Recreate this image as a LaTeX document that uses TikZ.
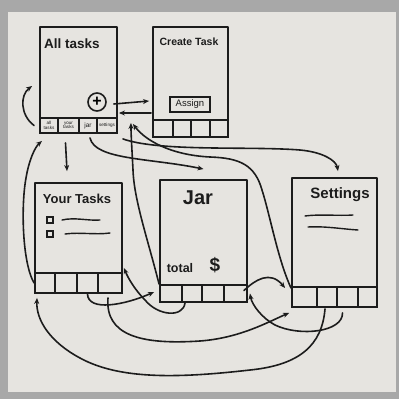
\documentclass[tikz,border=0pt]{standalone}
\usepackage{fontspec}
\setmainfont{Liberation Sans}
\usetikzlibrary{arrows.meta}
\definecolor{paper}{RGB}{230,228,224}
\definecolor{frame}{RGB}{168,168,168}
\definecolor{ink}{RGB}{28,28,28}
\tikzset{
  screen/.style={draw=ink, line width=1.9pt, inner sep=0pt, line join=round},
  tabbox/.style={draw=ink, line width=1.9pt, inner sep=0pt},
  arr/.style={draw=ink, line width=1.6pt, line cap=round, -{Stealth[length=6pt,width=5pt]}},
  plainline/.style={draw=ink, line width=1.4pt, line cap=round},
  title/.style={text=ink, inner sep=0pt},
  tablbl/.style={text=ink, inner sep=0pt, align=center, font=\fontsize{4.6}{4.4}\selectfont}
}
\newcommand\tabrow[8]{%
  \node[tabbox, minimum width={#3-#2}, minimum height={#8-#7}] (#11) at ({(#2+#3)/2},{(#7+#8)/2}) {};
  \node[tabbox, minimum width={#4-#3}, minimum height={#8-#7}] (#12) at ({(#3+#4)/2},{(#7+#8)/2}) {};
  \node[tabbox, minimum width={#5-#4}, minimum height={#8-#7}] (#13) at ({(#4+#5)/2},{(#7+#8)/2}) {};
  \node[tabbox, minimum width={#6-#5}, minimum height={#8-#7}] (#14) at ({(#5+#6)/2},{(#7+#8)/2}) {};
}
\begin{document}
\begin{tikzpicture}[x=1pt,y=-1pt]
\useasboundingbox (0,0) rectangle (399,399);
\fill[frame] (0,0) rectangle (399,399);
\fill[paper] (8,12) rectangle (396,392);

% All tasks
\node[screen, minimum width=77, minimum height=91] (AT) at (78.5,72.5) {};
\tabrow{AT}{40}{58}{79}{97}{117}{118}{133}
\node[title, font=\fontsize{13.5}{13.5}\selectfont\bfseries] (ATt) at (72,44) {All tasks};
\node[draw=ink, line width=1.6pt, circle, minimum size=18pt, inner sep=0pt,
      font=\fontsize{16}{16}\selectfont\bfseries] (plus) at (97,102) {+};
\node[tablbl] (ATl1) at (AT1) {all\\tasks};
\node[tablbl] (ATl2) at (AT2) {your\\tasks};
\node[tablbl, font=\fontsize{6.5}{6.5}\selectfont] (ATl3) at (AT3) {jar};
\node[tablbl, font=\fontsize{4.6}{4.6}\selectfont] (ATl4) at (AT4) {settings};

% Create task
\node[screen, minimum width=75, minimum height=93] (CT) at (190.5,73.5) {};
\tabrow{CT}{153}{173}{191}{210}{228}{120}{137}
\node[title, font=\fontsize{10.5}{10.5}\selectfont\bfseries] (CTt) at (189,42) {Create Task};
\node[draw=ink, line width=1.4pt, minimum width=40, minimum height=15, inner sep=0pt,
      font=\fontsize{9.5}{9.5}\selectfont, text=ink] (assign) at (190,104.5) {Assign};

% Your tasks
\node[screen, minimum width=87, minimum height=90] (YT) at (78.5,228) {};
\tabrow{YT}{35}{55}{77}{98}{122}{273}{293}
\node[title, font=\fontsize{13}{13}\selectfont\bfseries] (YTt) at (77,199) {Your Tasks};
\node[draw=ink, line width=1.3pt, minimum size=6pt, inner sep=0pt] (cb1) at (50,220) {};
\node[draw=ink, line width=1.3pt, minimum size=6pt, inner sep=0pt] (cb2) at (50,234) {};
\draw[plainline] (62,220) .. controls (75,217) and (88,221) .. (100,220);
\draw[plainline] (65,234) .. controls (80,232) and (95,235) .. (110,233);

% Jar
\node[screen, minimum width=87, minimum height=105] (JR) at (203.5,232.5) {};
\tabrow{JR}{160}{182}{202}{224}{247}{285}{302}
\node[title, font=\fontsize{20}{20}\selectfont\bfseries] (JRt) at (198,198) {Jar};
\node[title, font=\fontsize{12.5}{12.5}\selectfont\bfseries] (total) at (180,268) {total};
\node[title, font=\fontsize{19}{19}\selectfont\bfseries] (dollar) at (215,265) {\$};

% Settings
\node[screen, minimum width=85, minimum height=109] (ST) at (334.5,232.5) {};
\tabrow{ST}{292}{317}{337}{358}{377}{287}{307}
\node[title, font=\fontsize{15}{15}\selectfont\bfseries] (STt) at (340,195) {Settings};
\draw[plainline] (305,216) .. controls (320,214) and (338,216) .. (353,215);
\draw[plainline] (308,227) .. controls (325,226) and (342,229) .. (358,230);

% connectors
\draw[arr] ([shift={(-5,0)}]AT1.west) .. controls (20,115) and (20,95) .. ([shift={(-7,13.5)}]AT.west);
\draw[arr] ([shift={(-3,9)}]AT2.south) -- ([shift={(-11.5,-11)}]YT.north);
\draw[arr] (YT1.west) .. controls (22,262) and (21,205) .. (26,178)
  .. controls (29,160) and (35,147) .. ([shift={(-7,7)}]AT1.south);
\draw[arr] ([shift={(2,4)}]AT3.south) .. controls (95,160) and (150,158) .. ([shift={(0,-10)}]JR.north);
\draw[arr] ([shift={(5,5)}]AT4.south east) .. controls (160,152) and (250,146) .. (300,150)
  .. controls (322,152) and (336,160) .. ([shift={(3.5,-6)}]ST.north);
\draw[arr] (JR1.north west) .. controls (148,240) and (134,200) .. (133,170)
  .. controls (132,150) and (131,135) .. ([shift={(13,4)}]AT.south east);
\draw[arr] ([shift={(0,2)}]ST1.north west) .. controls (278,260) and (270,215) .. (262,190)
  .. controls (255,165) and (240,158) .. (210,157)
  .. controls (170,155) and (145,140) .. ([shift={(15,5)}]AT.south east);
\draw[arr] (YT3.south) .. controls (88,312) and (125,305) .. ([shift={(-5,-1.5)}]JR1.west);
\draw[arr] ([shift={(-2,4)}]YT4.south) .. controls (105,335) and (140,345) .. (200,341)
  .. controls (240,338) and (268,322) .. ([shift={(-2,5)}]ST1.south west);
\draw[arr] ([shift={(-7,0)}]JR2.south) .. controls (183,318) and (158,316) .. (145,300)
  .. controls (135,290) and (128,278) .. ([shift={(1,-6)}]YT.south east);
\draw[arr] ([shift={(-4,-3)}]JR4.east) .. controls (255,280) and (270,270) .. ([shift={(-6,-20)}]ST1.south west);
\draw[arr] ([shift={(-5,5)}]ST3.south) .. controls (343,332) and (300,337) .. (275,325)
  .. controls (262,318) and (252,305) .. ([shift={(2,0)}]JR4.east);
\draw[arr] ([shift={(-2,1)}]ST2.south) .. controls (322,345) and (300,365) .. (250,370)
  .. controls (180,378) and (120,380) .. (80,358)
  .. controls (50,342) and (36,320) .. ([shift={(-8,4)}]YT1.south);
\draw[arr] ([shift={(7,2)}]plus.east) -- ([shift={(-3,27.5)}]CT.west);
\draw[arr] ([shift={(-1,39.5)}]CT.west) -- ([shift={(1,40.5)}]AT.east);
\end{tikzpicture}
\end{document}
